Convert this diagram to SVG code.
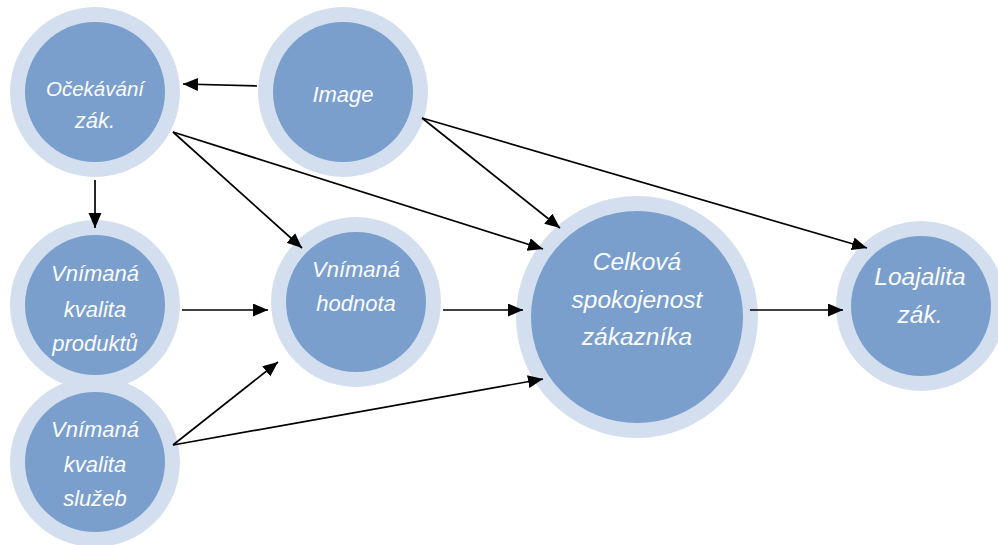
<svg xmlns="http://www.w3.org/2000/svg" width="998" height="545" viewBox="0 0 998 545">
  <style>
    .ring { fill: #D3DFEF; }
    .core { fill: #7A9FCC; }
    .lbl { font-family: "Liberation Sans", Arial, sans-serif; font-style: italic; font-size: 22px; fill: #FAFCFF; text-anchor: middle; }
    .lbl-sm { font-size: 20.5px; }
    .lbl-lg { font-size: 24.5px; }
    .edge { stroke: #000000; stroke-width: 1.7; fill: none; marker-end: url(#arrow); }
  </style>
  <defs>
    <marker id="arrow" markerUnits="userSpaceOnUse" markerWidth="16" markerHeight="14" refX="15" refY="6.5" orient="auto">
      <path d="M0,0 L15,6.5 L0,13 z" fill="#000000"/>
    </marker>
  </defs>
  <rect width="998" height="545" fill="#FFFFFF"/>

  <!-- nodes -->
  <g id="ocekavani">
    <circle class="ring" cx="95" cy="92" r="85"/>
    <circle class="core" cx="95" cy="92" r="70"/>
    <text class="lbl lbl-sm" x="95" y="96">Očekávání</text>
    <text class="lbl" x="95" y="128">zák.</text>
  </g>
  <g id="image">
    <circle class="ring" cx="343" cy="92" r="85"/>
    <circle class="core" cx="343" cy="92" r="70"/>
    <text class="lbl" x="343" y="102">Image</text>
  </g>
  <g id="kvalita-produktu">
    <circle class="ring" cx="95" cy="305" r="85"/>
    <circle class="core" cx="95" cy="305" r="70"/>
    <text class="lbl" x="95" y="281">Vnímaná</text>
    <text class="lbl" x="95" y="317">kvalita</text>
    <text class="lbl" x="95" y="351">produktů</text>
  </g>
  <g id="kvalita-sluzeb">
    <circle class="ring" cx="95" cy="462" r="85"/>
    <circle class="core" cx="95" cy="462" r="70"/>
    <text class="lbl" x="95" y="437">Vnímaná</text>
    <text class="lbl" x="95" y="472">kvalita</text>
    <text class="lbl" x="95" y="506">služeb</text>
  </g>
  <g id="hodnota">
    <circle class="ring" cx="356" cy="302" r="85"/>
    <circle class="core" cx="356" cy="302" r="70"/>
    <text class="lbl" x="356" y="277">Vnímaná</text>
    <text class="lbl" x="356" y="311">hodnota</text>
  </g>
  <g id="spokojenost">
    <circle class="ring" cx="637" cy="317" r="121"/>
    <circle class="core" cx="637" cy="317" r="106"/>
    <text class="lbl lbl-lg" x="637" y="270">Celková</text>
    <text class="lbl lbl-lg" x="637" y="308">spokojenost</text>
    <text class="lbl lbl-lg" x="637" y="345">zákazníka</text>
  </g>
  <g id="loajalita">
    <circle class="ring" cx="921" cy="306" r="85"/>
    <circle class="core" cx="921" cy="306" r="70"/>
    <text class="lbl lbl-lg" x="920" y="285">Loajalita</text>
    <text class="lbl lbl-lg" x="920" y="323">zák.</text>
  </g>

  <!-- connectors -->
  <g id="connectors">
    <line class="edge" x1="257" y1="86" x2="183" y2="84"/>
    <line class="edge" x1="95" y1="180" x2="95" y2="228"/>
    <line class="edge" x1="173" y1="132" x2="302" y2="248"/>
    <line class="edge" x1="173" y1="132" x2="543" y2="249"/>
    <line class="edge" x1="422" y1="118" x2="560" y2="228"/>
    <line class="edge" x1="422" y1="118" x2="867" y2="248"/>
    <line class="edge" x1="182" y1="310" x2="268" y2="310"/>
    <line class="edge" x1="443" y1="310" x2="523" y2="310"/>
    <line class="edge" x1="173" y1="445" x2="278" y2="362"/>
    <line class="edge" x1="173" y1="445" x2="543" y2="379"/>
    <line class="edge" x1="750" y1="310" x2="843" y2="310"/>
  </g>
</svg>
